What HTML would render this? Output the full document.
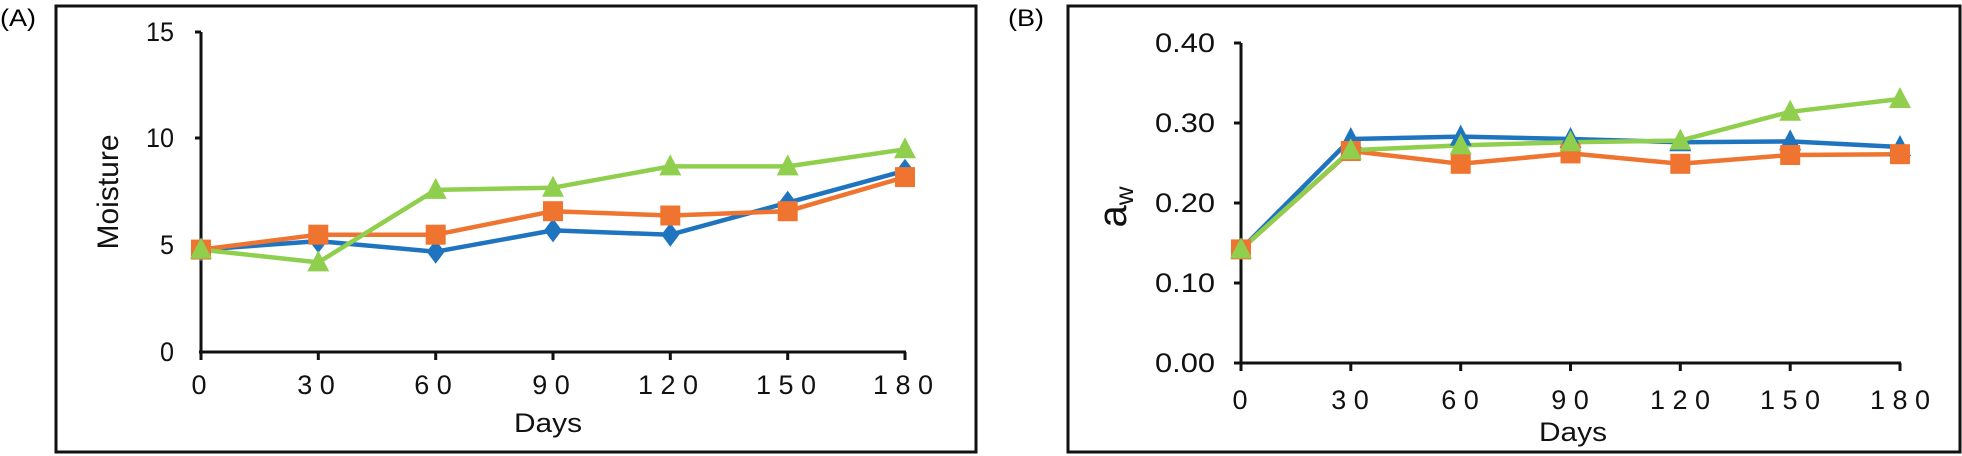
<!DOCTYPE html>
<html><head><meta charset="utf-8"><style>html,body{margin:0;padding:0;background:#fff}svg{display:block}</style></head><body>
<svg width="1962" height="456" viewBox="0 0 1962 456" xmlns="http://www.w3.org/2000/svg" font-family="Liberation Sans, sans-serif">
<defs>
<path id="dm" d="M0,-12 L9,0 L0,12 L-9,0Z" fill="#1f74c0"/>
<rect id="sq" x="-10" y="-10" width="20" height="20" fill="#ee7430"/>
<path id="tr" d="M0,-12 L11,9 L-11,9Z" fill="#8fcf4d"/>
</defs>
<rect x="0" y="0" width="1962" height="456" fill="#fff"/>
<!-- Panel A -->
<text x="0" y="26" font-size="24" textLength="36" lengthAdjust="spacingAndGlyphs">(A)</text>
<rect x="56" y="6" width="920" height="446" fill="none" stroke="#111" stroke-width="3"/>
<g stroke="#111" stroke-width="3">
<line x1="201" y1="32" x2="201" y2="352"/><line x1="199" y1="352" x2="906" y2="352"/>
<line x1="195" y1="32" x2="201" y2="32"/><line x1="195" y1="138" x2="201" y2="138"/><line x1="195" y1="245" x2="201" y2="245"/>
<line x1="201" y1="352" x2="201" y2="360"/><line x1="318.3" y1="352" x2="318.3" y2="360"/><line x1="435.7" y1="352" x2="435.7" y2="360"/><line x1="553" y1="352" x2="553" y2="360"/><line x1="670.3" y1="352" x2="670.3" y2="360"/><line x1="787.7" y1="352" x2="787.7" y2="360"/><line x1="905" y1="352" x2="905" y2="360"/>
</g>
<g font-size="27" fill="#111" text-anchor="end">
<text x="174" y="41" textLength="28" lengthAdjust="spacingAndGlyphs">15</text>
<text x="174" y="147" textLength="28" lengthAdjust="spacingAndGlyphs">10</text>
<text x="174" y="254" textLength="14" lengthAdjust="spacingAndGlyphs">5</text>
<text x="174" y="361" textLength="14" lengthAdjust="spacingAndGlyphs">0</text>
</g>
<g font-size="27" fill="#111" text-anchor="middle">
<text x="199" y="394">0</text><text x="316" y="394">3 0</text><text x="433" y="394">6 0</text><text x="551" y="394">9 0</text><text x="668" y="394">1 2 0</text><text x="786" y="394">1 5 0</text><text x="903" y="394">1 8 0</text>
<text x="548" y="432" textLength="68" lengthAdjust="spacingAndGlyphs">Days</text>
</g>
<text transform="translate(118,192) rotate(-90)" font-size="30" text-anchor="middle" fill="#111">Moisture</text>
<g fill="none" stroke-width="4.5" stroke-linejoin="round">
<polyline stroke="#1f74c0" points="201,249.6 318.3,241.1 435.7,251.7 553,230.4 670.3,234.7 787.7,202.7 905,170.7"/>
<polyline stroke="#ee7430" points="201,249.6 318.3,234.7 435.7,234.7 553,211.2 670.3,215.5 787.7,211.2 905,177.1"/>
<polyline stroke="#8fcf4d" points="201,249.6 318.3,262.4 435.7,189.9 553,187.7 670.3,166.4 787.7,166.4 905,149.3"/>
</g>
<use href="#dm" x="201" y="249.6"/><use href="#dm" x="318.3" y="241.1"/><use href="#dm" x="435.7" y="251.7"/><use href="#dm" x="553" y="230.4"/><use href="#dm" x="670.3" y="234.7"/><use href="#dm" x="787.7" y="202.7"/><use href="#dm" x="905" y="170.7"/>
<use href="#sq" x="201" y="249.6"/><use href="#sq" x="318.3" y="234.7"/><use href="#sq" x="435.7" y="234.7"/><use href="#sq" x="553" y="211.2"/><use href="#sq" x="670.3" y="215.5"/><use href="#sq" x="787.7" y="211.2"/><use href="#sq" x="905" y="177.1"/>
<use href="#tr" x="201" y="249.6"/><use href="#tr" x="318.3" y="262.4"/><use href="#tr" x="435.7" y="189.9"/><use href="#tr" x="553" y="187.7"/><use href="#tr" x="670.3" y="166.4"/><use href="#tr" x="787.7" y="166.4"/><use href="#tr" x="905" y="149.3"/>
<!-- Panel B -->
<text x="1008" y="26" font-size="24" textLength="36" lengthAdjust="spacingAndGlyphs">(B)</text>
<rect x="1068" y="6" width="892" height="446" fill="none" stroke="#111" stroke-width="3"/>
<g stroke="#111" stroke-width="3">
<line x1="1241" y1="43" x2="1241" y2="363"/><line x1="1234" y1="363" x2="1901" y2="363"/>
<line x1="1234" y1="43" x2="1241" y2="43"/><line x1="1234" y1="123" x2="1241" y2="123"/><line x1="1234" y1="203" x2="1241" y2="203"/><line x1="1234" y1="283" x2="1241" y2="283"/>
<line x1="1241" y1="363" x2="1241" y2="371"/><line x1="1350.8" y1="363" x2="1350.8" y2="371"/><line x1="1460.7" y1="363" x2="1460.7" y2="371"/><line x1="1570.5" y1="363" x2="1570.5" y2="371"/><line x1="1680.3" y1="363" x2="1680.3" y2="371"/><line x1="1790.2" y1="363" x2="1790.2" y2="371"/><line x1="1900" y1="363" x2="1900" y2="371"/>
</g>
<g font-size="27" fill="#111" text-anchor="end">
<text x="1215" y="52" textLength="60" lengthAdjust="spacingAndGlyphs">0.40</text>
<text x="1215" y="132" textLength="60" lengthAdjust="spacingAndGlyphs">0.30</text>
<text x="1215" y="212" textLength="60" lengthAdjust="spacingAndGlyphs">0.20</text>
<text x="1215" y="292" textLength="60" lengthAdjust="spacingAndGlyphs">0.10</text>
<text x="1215" y="372" textLength="60" lengthAdjust="spacingAndGlyphs">0.00</text>
</g>
<g font-size="27" fill="#111" text-anchor="middle">
<text x="1240" y="409">0</text><text x="1350" y="409">3 0</text><text x="1460" y="409">6 0</text><text x="1570" y="409">9 0</text><text x="1680" y="409">1 2 0</text><text x="1790" y="409">1 5 0</text><text x="1900" y="409">1 8 0</text>
<text x="1573" y="441" textLength="68" lengthAdjust="spacingAndGlyphs">Days</text>
</g>
<text transform="translate(1126,207) rotate(-90)" font-size="40" text-anchor="middle" fill="#111">a<tspan font-size="26" dy="7">w</tspan></text>
<g fill="none" stroke-width="4.5" stroke-linejoin="round">
<polyline stroke="#1f74c0" points="1241,249.4 1350.8,139 1460.7,136.6 1570.5,139 1680.3,142.2 1790.2,141.4 1900,147"/>
<polyline stroke="#ee7430" points="1241,249.4 1350.8,151 1460.7,163.8 1570.5,153.4 1680.3,163.8 1790.2,155 1900,154.2"/>
<polyline stroke="#8fcf4d" points="1241,249.4 1350.8,150.2 1460.7,145.4 1570.5,142.2 1680.3,140.6 1790.2,111.8 1900,99"/>
</g>
<path d="M0,-12 L11,9 L-11,9Z" fill="#1f74c0" transform="translate(1350.8,139)"/><path d="M0,-12 L11,9 L-11,9Z" fill="#1f74c0" transform="translate(1460.7,136.6)"/><path d="M0,-12 L11,9 L-11,9Z" fill="#1f74c0" transform="translate(1570.5,139)"/><path d="M0,-12 L11,9 L-11,9Z" fill="#1f74c0" transform="translate(1680.3,142.2)"/><path d="M0,-12 L11,9 L-11,9Z" fill="#1f74c0" transform="translate(1790.2,141.4)"/><path d="M0,-12 L11,9 L-11,9Z" fill="#1f74c0" transform="translate(1900,147)"/>
<use href="#sq" x="1241" y="249.4"/><use href="#sq" x="1350.8" y="151"/><use href="#sq" x="1460.7" y="163.8"/><use href="#sq" x="1570.5" y="153.4"/><use href="#sq" x="1680.3" y="163.8"/><use href="#sq" x="1790.2" y="155"/><use href="#sq" x="1900" y="154.2"/>
<use href="#tr" x="1241" y="249.4"/><use href="#tr" x="1350.8" y="150.2"/><use href="#tr" x="1460.7" y="145.4"/><use href="#tr" x="1570.5" y="142.2"/><use href="#tr" x="1680.3" y="140.6"/><use href="#tr" x="1790.2" y="111.8"/><use href="#tr" x="1900" y="99"/>
</svg>
</body></html>
